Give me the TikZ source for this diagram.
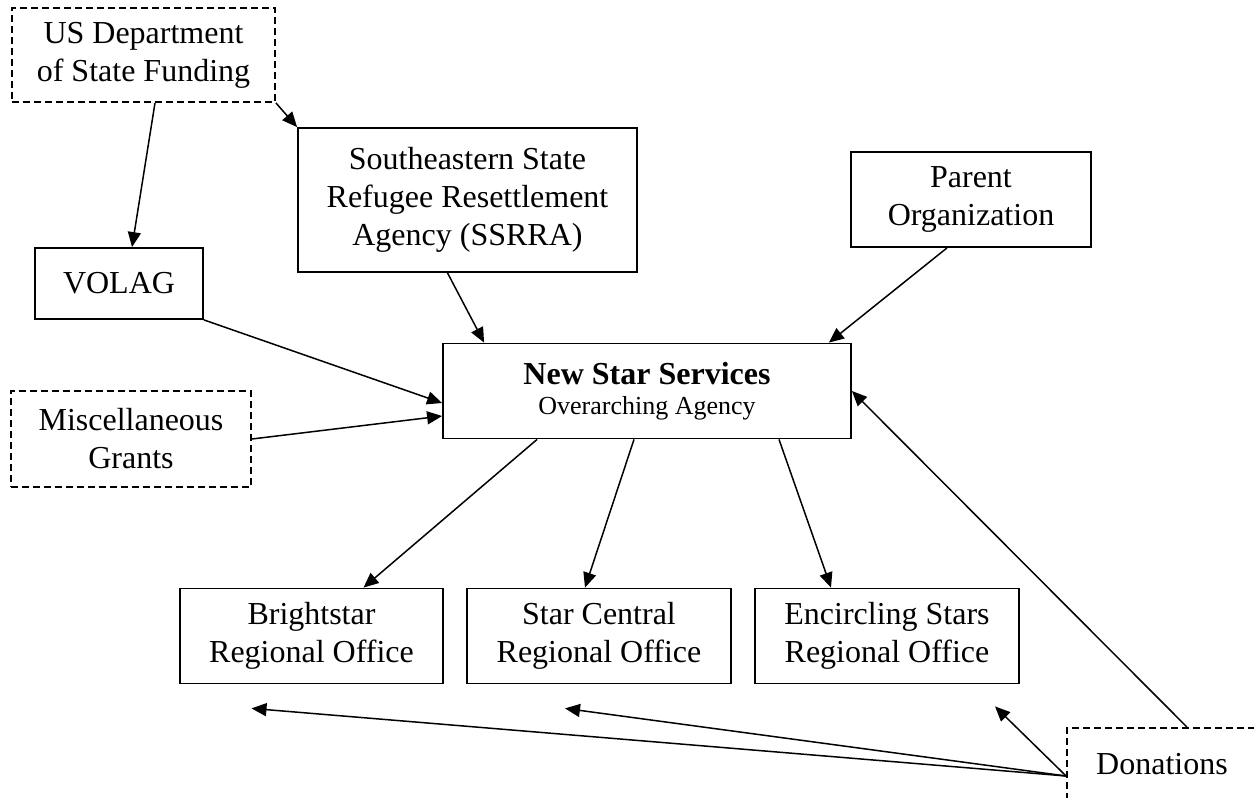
\documentclass[tikz,border=0pt]{standalone}
\usepackage{fontspec}
\setmainfont{Liberation Serif}
\usetikzlibrary{arrows.meta,calc}

\tikzset{
  box/.style={draw, line width=0.9pt, align=center, inner sep=0pt,
    font=\fontsize{16}{19}\selectfont},
  fund/.style={box, dash pattern=on 3.5pt off 2pt},
  link/.style={line width=0.75pt, -{Triangle[length=7.5pt,width=6.5pt]}}
}

\begin{document}
\begin{tikzpicture}[x=0.5pt, y=-0.5pt]
\useasboundingbox (0,0) rectangle (1254,798);
\clip (0,0) rectangle (1254,798);
% Sources of money
\node[fund, minimum width=131.5pt, minimum height=47pt] (usdept) at (143.5,55) {US Department\\of State Funding};
\node[box, minimum width=169.5pt, minimum height=72pt] (ssrra) at (467.5,200) {Southeastern State\\Refugee Resettlement\\Agency (SSRRA)};
\node[box, minimum width=120pt, minimum height=47.5pt] (parent) at (971,199.5) {Parent\\Organization};
\node[box, minimum width=84pt, minimum height=35.5pt] (volag) at (119,283.5) {VOLAG};
\node[fund, minimum width=120pt, minimum height=48pt] (misc) at (131,439) {Miscellaneous\\Grants};
\node[fund, minimum width=95pt, minimum height=36pt] (donations) at (1162,764) {Donations};
% Agency and its offices
\node[box, minimum width=204pt, minimum height=47.5pt] (nss) at (647,391) {\textbf{New Star Services}\\[-4pt]{\fontsize{13}{15}\selectfont Overarching Agency}};
\node[box, minimum width=131.5pt, minimum height=47.5pt] (bright) at (311.5,636) {Brightstar\\Regional Office};
\node[box, minimum width=132pt, minimum height=47.5pt] (central) at (599,636) {Star Central\\Regional Office};
\node[box, minimum width=132pt, minimum height=47.5pt] (encirc) at (887,636) {Encircling Stars\\Regional Office};
\coordinate (belowbright) at ($(bright.south)+(-60,24)$);
\coordinate (belowcentral) at ($(central.south)+(-34,24)$);
\coordinate (belowencirc) at ($(encirc.south)+(108,22)$);

\draw[link] ($(usdept.south)+(11.5,0)$) -- ($(volag.north)+(13,0)$);
\draw[link] (usdept.south east) -- (ssrra.north west);
\draw[link] ($(ssrra.south)+(-20,0)$) -- ($(nss.north west)+(42,0)$);
\draw[link] ($(parent.south)+(-24,0)$) -- ($(nss.north east)+(-23,0)$);
\draw[link] (volag.south east) -- ($(nss.west)+(0,12)$);
\draw[link] (misc.east) -- ($(nss.west)+(0,25)$);
\draw[link] ($(nss.south west)+(95,0)$) -- ($(bright.north)+(52,0)$);
\draw[link] ($(nss.south)+(-13,0)$) -- ($(central.north)+(-14,0)$);
\draw[link] ($(nss.south)+(132,0)$) -- ($(encirc.north)+(-56,0)$);
\draw[link] ($(donations.north)+(25,0)$) -- (nss.east);
\draw[link] ($(donations.west)+(0,12)$) -- (belowbright);
\draw[link] ($(donations.west)+(0,12)$) -- (belowcentral);
\draw[link] ($(donations.west)+(0,12)$) -- (belowencirc);
\end{tikzpicture}
\end{document}
